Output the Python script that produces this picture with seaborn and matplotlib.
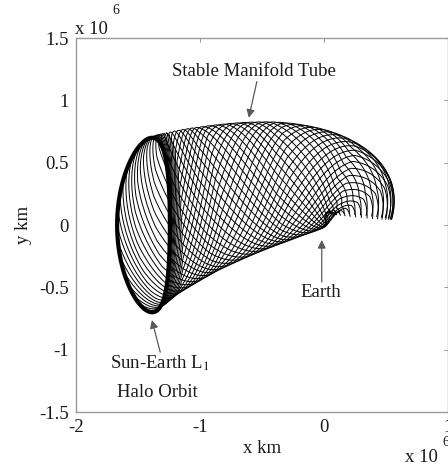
import numpy as np
import pandas as pd
import matplotlib
matplotlib.use('Agg')
import matplotlib.pyplot as plt
import seaborn as sns

# all lengths in units of 10^6 km
# halo orbit: centre, half width / half height, lean of top and bottom to the right
halo_centre = [-1.455, 0.0]
halo_half = [0.213, 0.70]
halo_lean = 0.07

# stable manifold tube: centre line as bezier control points
tube_ctrl_x = [-1.455, -0.85, 0.35, 0.30]
tube_ctrl_y = [0.0, 0.30, 0.60, 0.07]
# profiles along the tube (s = 0 at the halo, 1 at the Earth end)
tube_s = [0.0, 0.05, 0.10, 0.25, 0.50, 0.75, 0.90, 1.0]
tube_height = [0.70, 0.68, 0.65, 0.58, 0.48, 0.36, 0.30, 0.25]
tube_depth = [0.213, 0.16, 0.11, 0.07, 0.05, 0.04, 0.02, 0.01]
tube_lean = [0.07, 0.05, 0.03, 0.0, 0.0, 0.0, 0.0, 0.0]
tube_twist = [0.0, 0.14, 0.25, 0.45, 0.72, 0.93, 0.99, 1.0]
n_traj = 34
turns = 1.15

# annotations: text, text position, arrow tail, arrow tip
notes = [
    ('Stable Manifold Tube', (-0.565, 1.235), (-0.54, 1.15), (-0.605, 0.86)),
    ('Earth', (-0.024, -0.545), (-0.016, -0.457), (-0.016, -0.12)),
    ('Sun-Earth L$_1$', (-1.32, -1.107), (-1.32, -1.02), (-1.387, -0.762)),
]
x_ticks = [-2, -1, 0, 1]
y_ticks = [-1.5, -1, -0.5, 0, 0.5, 1, 1.5]


def bezier(c, s):
    return ((1 - s) ** 3 * c[0] + 3 * (1 - s) ** 2 * s * c[1]
            + 3 * (1 - s) * s ** 2 * c[2] + s ** 3 * c[3])


def dbezier(c, s):
    return 3 * ((1 - s) ** 2 * (c[1] - c[0]) + 2 * (1 - s) * s * (c[2] - c[1])
                + s ** 2 * (c[3] - c[2]))


s = np.linspace(0, 1, 500)
cx, cy = bezier(tube_ctrl_x, s), bezier(tube_ctrl_y, s)
dx, dy = dbezier(tube_ctrl_x, s), dbezier(tube_ctrl_y, s)
ang = np.arctan2(dy, dx) + np.pi / 2
ang = ang + (np.pi / 2 - ang[0]) * (1 - s) ** 3   # halo face-on at the start
nx, ny = np.cos(ang), np.sin(ang)
tx, ty = ny, -nx
h = np.interp(s, tube_s, tube_height)
w = np.interp(s, tube_s, tube_depth)
lean = np.interp(s, tube_s, tube_lean)
tw = np.interp(s, tube_s, tube_twist) * 2 * np.pi * turns

rows = []
for j in range(n_traj):
    th = 2 * np.pi * j / n_traj + tw
    along = w * np.cos(th) + lean * np.sin(th) ** 2
    px = cx + nx * h * np.sin(th) + tx * along
    py = cy + ny * h * np.sin(th) + ty * along
    rows.append(pd.DataFrame({'x': px, 'y': py, 'traj': j}))
tube = pd.concat(rows, ignore_index=True)

th = np.linspace(0, 2 * np.pi, 400)
halo = pd.DataFrame({
    'x': halo_centre[0] + halo_half[0] * np.cos(th) + halo_lean * np.sin(th) ** 2,
    'y': halo_centre[1] + halo_half[1] * np.sin(th)})

sns.set_style('white')
plt.rcParams['font.family'] = ['Liberation Serif', 'DejaVu Serif']
plt.rcParams['mathtext.fontset'] = 'stix'

fig = plt.figure(figsize=(4.48, 4.70), dpi=100)
ax = fig.add_axes([0.1696, 0.1234, 0.8295, 0.7957])

sns.lineplot(data=tube, x='x', y='y', units='traj', estimator=None, sort=False,
             color='black', lw=0.7, ax=ax, legend=False)
sns.lineplot(data=halo, x='x', y='y', estimator=None, sort=False,
             color='black', lw=3.0, ax=ax, legend=False)

for text, tpos, tail, tip in notes:
    ax.annotate('', xy=tip, xytext=tail,
                arrowprops=dict(arrowstyle='-|>', color='0.35', lw=0.9,
                                mutation_scale=12, shrinkA=0, shrinkB=0))
    ax.text(tpos[0], tpos[1], text, ha='center', va='center', fontsize=13.5,
            color='0.1')
ax.text(-1.34, -1.347, 'Halo Orbit', ha='center', va='center', fontsize=13.5,
        color='0.1')

ax.set_xlim(-2, 1)
ax.set_ylim(-1.5, 1.5)
ax.set_xticks(x_ticks)
ax.set_yticks(y_ticks)
ax.set_xticklabels([str(v) for v in x_ticks])
ax.set_yticklabels(['%g' % v for v in y_ticks])
ax.tick_params(direction='in', length=3, width=0.6, color='0.5', labelsize=13.5,
               labelcolor='0.1', top=True, right=True)
ax.tick_params(axis='y', pad=5)
ax.tick_params(axis='x', pad=5)
for sp in ax.spines.values():
    sp.set_color('0.6')
    sp.set_linewidth(1.0)
ax.set_xlabel('x km', fontsize=13.5, color='0.1', labelpad=3)
ax.set_ylabel('y km', fontsize=13.5, color='0.1', labelpad=5)

fig.text(75 / 448, 1 - 30 / 470, 'x 10', fontsize=13.5, color='0.1', va='center')
fig.text(112 / 448, 1 - 11 / 470, '6', fontsize=10, color='0.1', va='center')
fig.text(405 / 448, 1 - 457 / 470, 'x 10', fontsize=13.5, color='0.1', va='center')
fig.text(442 / 448, 1 - 443 / 470, '6', fontsize=10, color='0.1', va='center')

fig.savefig('out.png', dpi=100)
